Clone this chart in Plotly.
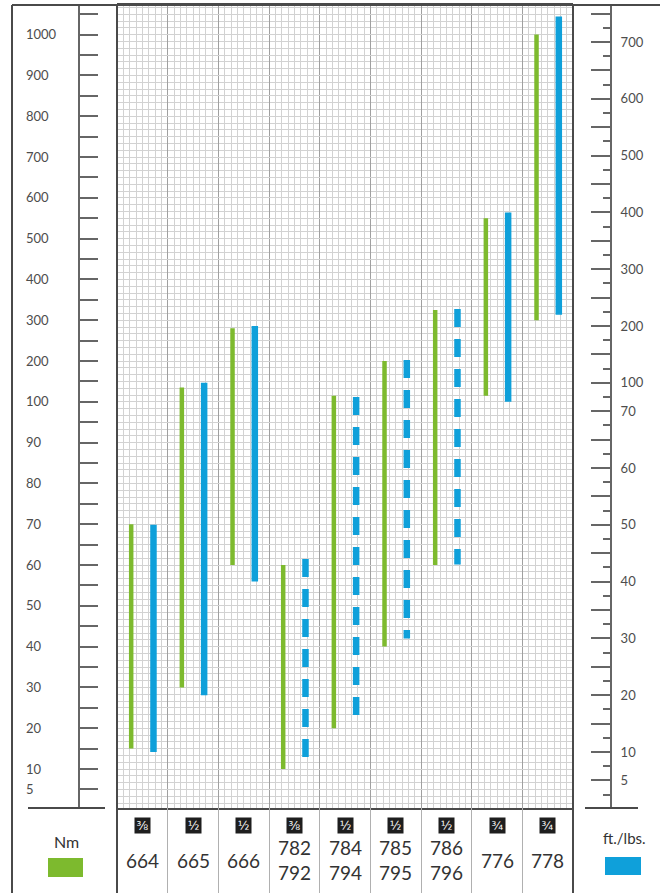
import numpy as np
import plotly.graph_objects as go

W, H = 660, 893

# drive sizes and model numbers, one per column
sizes = ["⅜", "½", "½", "⅜", "½", "½", "½", "¾", "¾"]
models = ["664", "665", "666", "782<br>792", "784<br>794",
          "785<br>795", "786<br>796", "776", "778"]

# torque ranges
nm_min = [15, 30, 60, 10, 20, 40, 60, 115, 300]
nm_max = [70, 135, 280, 60, 115, 200, 325, 550, 1000]
ft_min = [10, 20, 40, 7, 15, 30, 43, 80, 220]
ft_max = [50, 100, 200, 44, 85, 140, 230, 400, 745]
ft_dashed = [False, False, False, True, True, True, True, False, False]

# the two scales are stepped, not linear: label -> step index
nm_ticks = [5, 10, 20, 30, 40, 50, 60, 70, 80, 90, 100,
            200, 300, 400, 500, 600, 700, 800, 900, 1000]
nm_tick_pos = [-0.5, 0, 1, 2, 3, 4, 5, 6, 7, 8, 9,
               10, 11, 12, 13, 14, 15, 16, 17, 18]
ft_ticks = [5, 10, 20, 30, 40, 50, 60, 70, 100, 200, 300, 400, 500, 600, 700]
ft_tick_pos = [-0.5, 0, 1, 2, 3, 4, 5, 6, 6.5, 7.5, 8.5, 9.5, 10.5, 11.5, 12.5]
# scale keeps going past the last printed label
ft_scale = ft_ticks + [800]
ft_scale_pos = ft_tick_pos + [13.5]

GREEN = "#7dba2e"
BLUE = "#0fa0da"
GRID = "#d2d2d2"
FRAME = "#4a4a4a"
TXT = "#4d4d4d"
FONT = "Lato"

# pixel geometry of the sheet
PLOT_L, PLOT_R, PLOT_T, PLOT_B = 117, 573, 5, 808
NM_ZERO, NM_STEP = 769, 40.8
FT_ZERO, FT_STEP = 752, 56.8


def px(x):
  return x / W


def py(y):
  return 1 - y / H


nm_range = [(NM_ZERO - PLOT_B) / NM_STEP, (NM_ZERO - PLOT_T) / NM_STEP]
ft_range = [(FT_ZERO - PLOT_B) / FT_STEP, (FT_ZERO - PLOT_T) / FT_STEP]

fig = go.Figure()

for i in range(len(models)):
  y_nm = np.interp([nm_max[i], nm_min[i]], nm_ticks, nm_tick_pos)
  fig.add_trace(go.Scatter(
    x=[i + 0.28, i + 0.28], y=y_nm, mode="lines",
    line=dict(color=GREEN, width=4.5),
    showlegend=False, hoverinfo="skip",
  ))
  y_ft = np.interp([ft_max[i], ft_min[i]], ft_scale, ft_scale_pos)
  fig.add_trace(go.Scatter(
    x=[i + 0.72, i + 0.72], y=y_ft, mode="lines", yaxis="y2",
    line=dict(color=BLUE, width=6.5,
              dash="18px,12px" if ft_dashed[i] else "solid"),
    showlegend=False, hoverinfo="skip",
  ))

# empty traces so the label / short-tick axes get drawn
for ax in ("y3", "y4"):
  fig.add_trace(go.Scatter(x=[None], y=[None], yaxis=ax, mode="lines",
                           showlegend=False, hoverinfo="skip"))

# right scale: long ticks every half step, short ticks between
half_steps = [k / 2 for k in range(-1, 27)]
ft_text = {p: str(t) for p, t in zip(ft_tick_pos, ft_ticks)}
quarter_steps = [k / 2 + 0.25 for k in range(-2, 26)]

for i, (frac, model) in enumerate(zip(sizes, models)):
  fig.add_annotation(
    x=i + 0.5, y=py(825), xref="x2", yref="paper", text=frac,
    xanchor="center", yanchor="middle",
    showarrow=False, font=dict(size=12, color="white", family="DejaVu Sans"),
    bgcolor="#1e1e1e", width=13, height=13, borderpad=1,
  )
  fig.add_annotation(
    x=i + 0.5, y=py(860), xref="x2", yref="paper", text=model,
    xanchor="center", yanchor="middle",
    showarrow=False, font=dict(size=19, color="#333", family=FONT),
  )

fig.add_annotation(x=px(66), y=py(841), xref="paper", yref="paper", text="Nm",
                   xanchor="center", yanchor="middle",
                   showarrow=False, font=dict(size=16, color="#333", family=FONT))
fig.add_annotation(x=px(624), y=py(838), xref="paper", yref="paper", text="ft./lbs.",
                   xanchor="center", yanchor="middle",
                   showarrow=False, font=dict(size=15, color="#333", family=FONT))

shapes = [
  dict(type="rect", x0=px(48), x1=px(83), y0=py(877), y1=py(858), fillcolor=GREEN),
  dict(type="rect", x0=px(605), x1=px(641), y0=py(875), y1=py(857), fillcolor=BLUE),
  dict(type="line", x0=px(12), x1=px(12), y0=py(893), y1=py(5)),
  dict(type="line", x0=px(12), x1=1, y0=py(5), y1=py(5)),
  dict(type="line", x0=px(PLOT_L), x1=px(PLOT_L), y0=0, y1=py(5)),
  dict(type="line", x0=px(PLOT_R), x1=px(PLOT_R), y0=0, y1=py(5)),
  dict(type="line", x0=px(28), x1=px(105), y0=py(808), y1=py(808)),
  dict(type="line", x0=px(585), x1=px(638), y0=py(808), y1=py(808)),
]
for s in shapes:
  s.update(xref="paper", yref="paper", layer="above")
  if s["type"] == "line":
    s["line"] = dict(color=FRAME, width=2)
  else:
    s["line"] = dict(width=0)
fig.update_layout(shapes=shapes)

fig.update_layout(
  width=W, height=H,
  margin=dict(l=0, r=0, t=0, b=0),
  paper_bgcolor="white", plot_bgcolor="white",
  font=dict(family=FONT, color=TXT),
  xaxis=dict(
    domain=[px(PLOT_L), px(PLOT_R)], range=[0, 9], anchor="y",
    tick0=0, dtick=1, showgrid=True, gridcolor="#a0a0a0", gridwidth=1,
    minor=dict(tick0=0, dtick=0.125, showgrid=True, gridcolor=GRID),
    showticklabels=False, ticks="", zeroline=False,
    showline=True, mirror=True, linecolor=FRAME, linewidth=2,
  ),
  yaxis=dict(
    domain=[py(PLOT_B), py(PLOT_T)], range=nm_range,
    anchor="free", position=px(79), side="left",
    tick0=0, dtick=0.5, ticks="inside", ticklen=18, tickwidth=1.5, tickcolor="#666",
    showticklabels=False, showline=True, linecolor="#666", linewidth=2,
    showgrid=True, gridcolor=GRID, zeroline=False,
    minor=dict(tick0=0, dtick=1 / 6, showgrid=True, gridcolor=GRID),
  ),
  yaxis3=dict(
    overlaying="y", range=nm_range, anchor="free", position=px(25), side="right",
    tickmode="array", tickvals=nm_tick_pos, ticktext=[str(t) for t in nm_ticks],
    ticks="", showline=False, showgrid=False, zeroline=False,
    tickfont=dict(size=13, color=TXT, family=FONT),
  ),
  yaxis2=dict(
    overlaying="y", range=ft_range, anchor="free", position=px(611), side="right",
    tickmode="array", tickvals=half_steps,
    ticktext=[ft_text.get(p, "") for p in half_steps],
    ticks="inside", ticklen=19, tickwidth=1.5, tickcolor="#666",
    showline=True, linecolor="#666", linewidth=2, showgrid=False, zeroline=False,
    tickfont=dict(size=13, color=TXT, family=FONT), ticklabelstandoff=6,
  ),
  yaxis4=dict(
    overlaying="y", range=ft_range, anchor="free", position=px(611), side="right",
    tickmode="array", tickvals=quarter_steps, ticks="inside", ticklen=8,
    tickwidth=1.5, tickcolor="#666", showticklabels=False,
    showline=False, showgrid=False, zeroline=False,
  ),
  xaxis2=dict(
    domain=[px(PLOT_L), px(PLOT_R)], range=[0, 9], anchor="y5",
    tick0=0, dtick=1, showgrid=True, gridcolor="#b0b0b0",
    showticklabels=False, ticks="", zeroline=False,
  ),
  yaxis5=dict(
    domain=[0, py(PLOT_B)], range=[0, 1], anchor="x2",
    showgrid=False, showticklabels=False, ticks="", zeroline=False,
  ),
)

# page body has a default 8px margin; drop it so the sheet fills the window
fig.write_html("out.html", config={"displayModeBar": False},
               post_script="document.body.style.margin='0';")
